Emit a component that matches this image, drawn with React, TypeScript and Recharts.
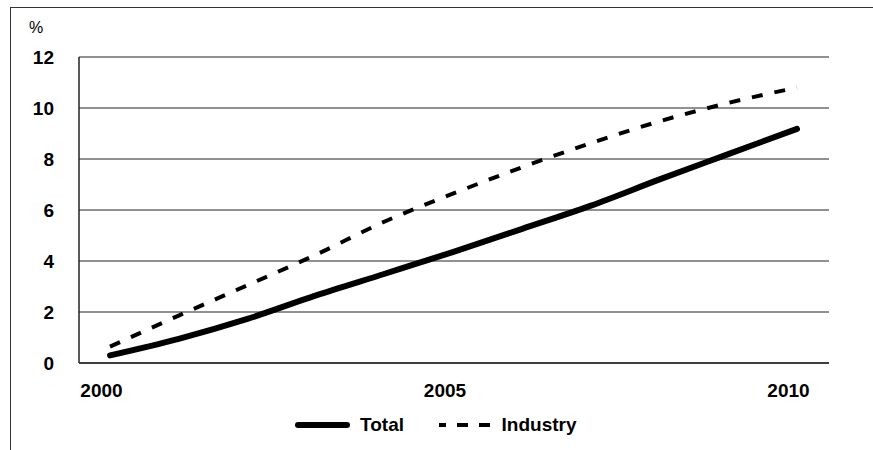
import { LineChart, Line, XAxis, YAxis, CartesianGrid, Legend } from 'recharts';

const years = [2000, 2001, 2002, 2003, 2004, 2005, 2006, 2007, 2008, 2009, 2010];
const total = [0.3, 0.95, 1.73, 2.65, 3.5, 4.36, 5.26, 6.17, 7.2, 8.19, 9.18];
const industry = [0.64, 1.86, 3.05, 4.25, 5.55, 6.65, 7.68, 8.62, 9.48, 10.2, 10.8];
const xTicks = [2000, 2005, 2010];
const yTicks = [0, 2, 4, 6, 8, 10, 12];

const data = years.map((year, i) => ({ year, total: total[i], industry: industry[i] }));

const font = '"Liberation Sans", Arial, sans-serif';

const XTick = ({ x, y, payload }: any) => (
  <text x={x - 8.5} y={y + 34} textAnchor="middle" fontFamily={font} fontSize={19} fontWeight="bold" fill="#000">
    {payload.value}
  </text>
);

const YTick = ({ x, y, payload }: any) => (
  <text x={x - 25} y={y + 7} textAnchor="end" fontFamily={font} fontSize={19} fontWeight="bold" fill="#000">
    {payload.value}
  </text>
);

const renderLegend = () => (
  <div style={{ display: 'flex', alignItems: 'center', height: 22, fontFamily: font, fontSize: 19, fontWeight: 'bold', lineHeight: '22px', color: '#000' }}>
    <svg width={61} height={10}>
      <line x1={6} y1={5} x2={55} y2={5} stroke="#000" strokeWidth={6} strokeLinecap="round" />
    </svg>
    <span style={{ marginLeft: 7 }}>Total</span>
    <svg width={51} height={10} style={{ marginLeft: 34.6 }}>
      <line x1={0} y1={5} x2={51} y2={5} stroke="#000" strokeWidth={4} strokeDasharray="11 11" strokeDashoffset={4} />
    </svg>
    <span style={{ marginLeft: 12 }}>Industry</span>
  </div>
);

export default function App() {
  return (
    <div style={{ position: 'absolute', left: 0, top: 0, width: 873, height: 450, background: '#fff', overflow: 'hidden' }}>
      <div style={{ position: 'absolute', left: 10, top: 7, width: 900, height: 500, borderTop: '1px solid #333', borderLeft: '1px solid #333' }} />
      <LineChart
        width={873}
        height={450}
        data={data}
        margin={{ top: 57, right: 44, bottom: 47, left: 9 }}
        style={{ position: 'absolute', left: 0, top: 0 }}
      >
        <CartesianGrid vertical={false} stroke="#222" strokeWidth={1} />
        <XAxis
          dataKey="year"
          type="number"
          domain={[2000, 2010]}
          ticks={xTicks}
          padding={{ left: 31, right: 32 }}
          height={40}
          tickSize={0}
          tickMargin={0}
          tickLine={false}
          axisLine={{ stroke: '#222', strokeWidth: 1.5 }}
          tick={<XTick />}
        />
        <YAxis
          domain={[0, 12]}
          ticks={yTicks}
          width={70}
          tickSize={0}
          tickMargin={0}
          tickLine={false}
          axisLine={{ stroke: '#222', strokeWidth: 1.5 }}
          tick={<YTick />}
          label={{
            content: ({ viewBox }: any) => (
              <text x={viewBox.x + 20} y={viewBox.y - 24} fontFamily={font} fontSize={16} fill="#000">%</text>
            ),
          }}
        />
        <YAxis
          yAxisId="frame"
          orientation="right"
          domain={[0, 12]}
          width={0}
          tick={false}
          tickLine={false}
          axisLine={{ stroke: '#222', strokeWidth: 1.5 }}
        />
        <Legend
          layout="vertical"
          align="center"
          verticalAlign="middle"
          content={renderLegend}
          wrapperStyle={{ position: 'absolute', left: 292, top: 414, width: 320, height: 22 }}
        />
        <Line
          type="monotone"
          dataKey="total"
          name="Total"
          stroke="#000"
          strokeWidth={6}
          strokeLinecap="round"
          dot={false}
          activeDot={false}
          isAnimationActive={false}
        />
        <Line
          type="monotone"
          dataKey="industry"
          name="Industry"
          stroke="#000"
          strokeWidth={4}
          strokeDasharray="11 12"
          dot={false}
          activeDot={false}
          isAnimationActive={false}
        />
      </LineChart>
    </div>
  );
}
